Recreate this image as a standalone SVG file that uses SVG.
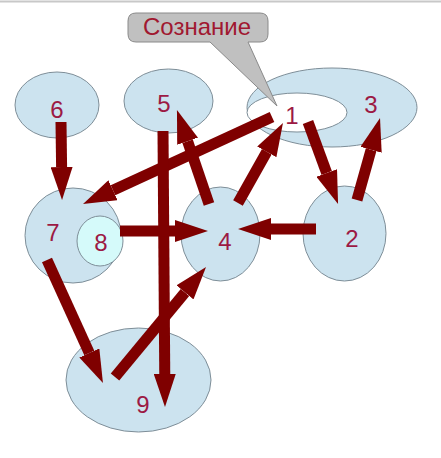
<svg xmlns="http://www.w3.org/2000/svg" width="441" height="458" viewBox="0 0 441 458">
<style>
.n{fill:#cce3ef;stroke:#7e8e98;stroke-width:1}
.lbl{font-family:"Liberation Sans",Arial,sans-serif;font-size:24px;fill:#9c1a44;text-anchor:middle}
.a{stroke:#7f0000;stroke-width:11;fill:none;marker-end:url(#ah)}
</style>
<defs>
<marker id="ah" viewBox="0 0 3 2" markerWidth="3" markerHeight="2" refX="0" refY="1" orient="auto">
<path d="M0,0 L3,1 L0,2 Z" fill="#7f0000"/>
</marker>
</defs>
<rect width="441" height="458" fill="#ffffff"/>
<line x1="0" y1="1.5" x2="441" y2="1.5" stroke="#c8c8c8" stroke-width="2"/>
<g id="node6"><ellipse class="n" cx="57" cy="105" rx="42" ry="33"/><text class="lbl" x="57" y="118">6</text></g>
<g id="node5"><ellipse class="n" cx="168.5" cy="101" rx="44.5" ry="32"/><text class="lbl" x="164" y="112">5</text></g>
<g id="node3"><ellipse class="n" cx="332" cy="107.5" rx="85" ry="39.5"/><text class="lbl" x="371" y="113">3</text></g>
<g id="node1"><ellipse cx="297" cy="112.5" rx="50" ry="19.5" fill="#ffffff" stroke="#7e8e98" stroke-width="1"/><text class="lbl" x="292" y="124">1</text></g>
<g id="node7"><ellipse class="n" cx="73" cy="235.5" rx="48" ry="47.5"/><text class="lbl" x="53" y="241">7</text></g>
<g id="node8"><ellipse cx="100" cy="241" rx="23" ry="25" fill="#d5fafa" stroke="#7e8e98" stroke-width="1"/><text class="lbl" x="101" y="251">8</text></g>
<g id="node4"><ellipse class="n" cx="220.5" cy="234" rx="39.5" ry="47"/><text class="lbl" x="225" y="250">4</text></g>
<g id="node2"><ellipse class="n" cx="344.5" cy="233.5" rx="41.5" ry="47.5"/><text class="lbl" x="352" y="247">2</text></g>
<g id="node9"><ellipse class="n" cx="138.5" cy="380" rx="72.5" ry="52"/><text class="lbl" x="143" y="413">9</text></g>
<g id="callout">
<path d="M136,13 H260 Q268,13 268,21 V34 Q268,42 260,42 H248 L277,106 L210,42 H136 Q128,42 128,34 V21 Q128,13 136,13 Z" fill="#c0c0c0" stroke="#8a8a8a" stroke-width="1"/>
<text x="197" y="35" font-family="Liberation Sans,Arial,sans-serif" font-size="24" fill="#a01830" text-anchor="middle">Сознание</text>
</g>
<g id="connectors">
<line class="a" x1="61" y1="122" x2="61.6" y2="167"/>
<line class="a" x1="272" y1="117" x2="113" y2="190.2"/>
<line class="a" x1="163" y1="131" x2="164.76" y2="374"/>
<line class="a" x1="209" y1="204" x2="187.6" y2="141.2"/>
<line class="a" x1="238" y1="203" x2="266.8" y2="151.8"/>
<line class="a" x1="308" y1="122" x2="326.7" y2="173"/>
<line class="a" x1="357" y1="200" x2="371.1" y2="149.8"/>
<line class="a" x1="120" y1="231" x2="175" y2="231"/>
<line class="a" x1="316" y1="229" x2="271" y2="229"/>
<line class="a" x1="47" y1="260" x2="89.3" y2="353"/>
<line class="a" x1="115" y1="377" x2="185" y2="292.4"/>
</g>
</svg>
